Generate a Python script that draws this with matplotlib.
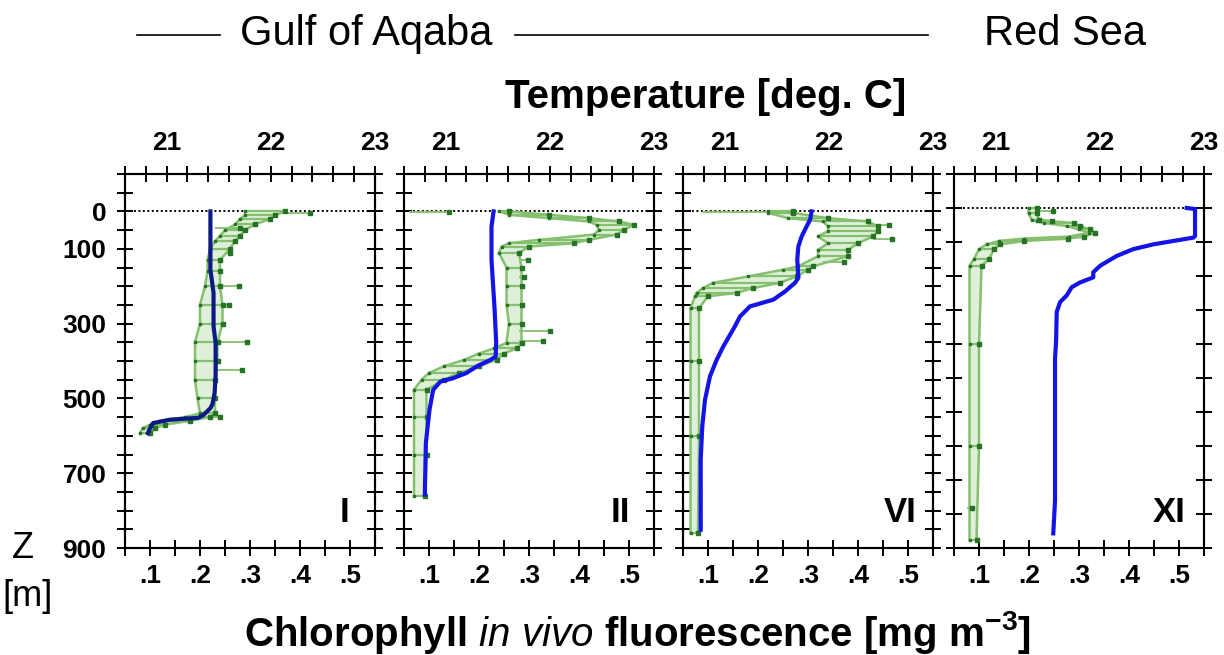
import matplotlib
matplotlib.use("Agg")
import matplotlib.pyplot as plt
from matplotlib import font_manager
from matplotlib.lines import Line2D
import numpy as np

# ---------------- data ----------------
panel_names = ["I", "II", "VI", "XI"]

# chlorophyll fluorescence band (min / max per depth), mg m-3
p1_chl_depth = [0, 10, 20, 35, 50, 65, 80, 100, 130, 160, 200, 250, 300, 350, 400, 450, 500, 540, 550, 560, 570, 580, 593]
p1_chl_lo = [0.29, 0.29, 0.28, 0.27, 0.25, 0.24, 0.23, 0.22, 0.215, 0.215, 0.21, 0.20, 0.20, 0.19, 0.19, 0.19, 0.195, 0.20, 0.17, 0.12, 0.10, 0.085, 0.08]
p1_chl_hi = [0.37, 0.35, 0.34, 0.31, 0.29, 0.28, 0.27, 0.26, 0.24, 0.24, 0.24, 0.245, 0.245, 0.235, 0.235, 0.23, 0.23, 0.23, 0.22, 0.18, 0.13, 0.11, 0.10]
p1_spike_depth = [3, 44, 110, 200, 251, 350, 425, 551]
p1_spike_x0 = [0.36, 0.23, 0.25, 0.24, 0.24, 0.24, 0.23, 0.22]
p1_spike_x1 = [0.42, 0.28, 0.26, 0.277, 0.257, 0.293, 0.283, 0.24]
p1_temp_depth = [0, 50, 100, 156, 218, 307, 352, 441, 486, 515, 526, 545, 552, 557, 566, 580, 593]
p1_temp = [21.42, 21.42, 21.42, 21.42, 21.45, 21.45, 21.47, 21.47, 21.46, 21.44, 21.42, 21.35, 21.30, 21.03, 20.87, 20.84, 20.82]

p2_chl_depth = [0, 9, 18, 27, 36, 49, 62, 76, 85, 94, 111, 150, 200, 250, 300, 352, 366, 380, 397, 414, 432, 450, 477, 550, 650, 762]
p2_chl_lo = [0.24, 0.26, 0.34, 0.42, 0.435, 0.44, 0.43, 0.32, 0.26, 0.245, 0.24, 0.255, 0.255, 0.255, 0.26, 0.255, 0.23, 0.20, 0.17, 0.13, 0.10, 0.085, 0.07, 0.07, 0.07, 0.07]
p2_chl_hi = [0.26, 0.34, 0.42, 0.48, 0.51, 0.49, 0.475, 0.42, 0.39, 0.30, 0.28, 0.285, 0.285, 0.285, 0.285, 0.285, 0.275, 0.25, 0.235, 0.20, 0.16, 0.13, 0.095, 0.095, 0.095, 0.092]
p2_spike_depth = [1, 129, 175, 321, 347]
p2_spike_x0 = [0.06, 0.28, 0.28, 0.28, 0.28]
p2_spike_x1 = [0.14, 0.297, 0.29, 0.342, 0.327]
p2_temp_depth = [0, 40, 111, 129, 263, 352, 388, 397, 414, 432, 446, 455, 477, 530, 619, 757]
p2_temp = [21.46, 21.44, 21.44, 21.44, 21.47, 21.485, 21.48, 21.43, 21.30, 21.20, 21.07, 20.95, 20.88, 20.845, 20.81, 20.80]

p3_chl_depth = [0, 4, 18, 27, 40, 53, 67, 85, 103, 120, 147, 156, 174, 191, 205, 218, 227, 259, 400, 600, 860]
p3_chl_lo = [0.22, 0.22, 0.26, 0.33, 0.34, 0.34, 0.32, 0.34, 0.32, 0.32, 0.28, 0.25, 0.18, 0.11, 0.09, 0.077, 0.074, 0.065, 0.065, 0.065, 0.065]
p3_chl_hi = [0.27, 0.27, 0.34, 0.42, 0.44, 0.44, 0.43, 0.40, 0.38, 0.38, 0.31, 0.30, 0.277, 0.244, 0.19, 0.157, 0.10, 0.082, 0.082, 0.082, 0.08]
p3_spike_depth = [1, 36, 74, 134]
p3_spike_x0 = [0.087, 0.42, 0.43, 0.33]
p3_spike_x1 = [0.27, 0.461, 0.467, 0.371]
p3_temp_depth = [0, 22, 40, 67, 94, 129, 178, 191, 214, 236, 254, 281, 307, 361, 397, 441, 504, 575, 664, 851]
p3_temp = [21.835, 21.82, 21.787, 21.739, 21.707, 21.697, 21.707, 21.675, 21.58, 21.467, 21.243, 21.147, 21.099, 20.987, 20.923, 20.859, 20.811, 20.785, 20.77, 20.77]

p4_chl_depth = [0, 15, 34, 39, 44, 53, 63, 73, 84, 90, 97, 107, 121, 150, 170, 400, 700, 977]
p4_chl_lo = [0.199, 0.199, 0.205, 0.215, 0.23, 0.275, 0.30, 0.32, 0.28, 0.19, 0.14, 0.115, 0.10, 0.09, 0.081, 0.081, 0.081, 0.081]
p4_chl_hi = [0.215, 0.215, 0.22, 0.245, 0.289, 0.302, 0.322, 0.332, 0.31, 0.277, 0.19, 0.142, 0.13, 0.12, 0.105, 0.10, 0.10, 0.095]
p4_spike_depth = [10, 883]
p4_spike_x0 = [0.215, 0.075]
p4_spike_x1 = [0.247, 0.085]
p4_temp_depth = [0, 3, 82, 87, 97, 107, 121, 141, 170, 189, 204, 219, 233, 257, 277, 306, 393, 442, 539, 860, 957]
p4_temp = [22.834, 22.914, 22.914, 22.90, 22.705, 22.513, 22.321, 22.162, 22.002, 21.937, 21.937, 21.81, 21.73, 21.682, 21.618, 21.586, 21.58, 21.57, 21.57, 21.57, 21.553]

chl_ticks = [0.05, 0.10, 0.15, 0.20, 0.25, 0.30, 0.35, 0.40, 0.45, 0.50, 0.55]
chl_labels = ["", ".1", "", ".2", "", ".3", "", ".4", "", ".5", ""]
temp_ticks = [20.6, 20.8, 21.0, 21.2, 21.4, 21.6, 21.8, 22.0, 22.2, 22.4, 22.6, 22.8, 23.0]
temp_labels = ["", "", "21", "", "", "", "", "22", "", "", "", "", "23"]
depth_ticks = [-100, -50, 0, 50, 100, 150, 200, 250, 300, 350, 400, 450, 500, 550, 600, 650, 700, 750, 800, 850, 900]
depth_labels = ["", "", "0", "", "100", "", "", "", "300", "", "", "", "500", "", "", "", "700", "", "", "", "900"]
depth_ticks_xi = [-100, 0, 100, 200, 300, 400, 500, 600, 700, 800, 900, 1000]

# ---------------- style ----------------
names = {f.name for f in font_manager.fontManager.ttflist}
FONT = "Liberation Sans Narrow" if "Liberation Sans Narrow" in names else "Liberation Sans"
plt.rcParams["font.family"] = [FONT, "DejaVu Sans"]
plt.rcParams["mathtext.fontset"] = "custom"
plt.rcParams["mathtext.rm"] = FONT
plt.rcParams["mathtext.bf"] = FONT + ":bold"
plt.rcParams["mathtext.it"] = FONT + ":italic"

GREEN = "#84c06e"
DKGREEN = "#267326"
NAVY = "#0c1a86"
BLUE = "#1414e6"

fig = plt.figure(figsize=(12.24, 6.55), dpi=100)
W, H = 1224.0, 655.0
lefts = [125, 404, 683, 954]
ax_w = 250
ax_top, ax_bot = 174, 548

panels = [
    (p1_chl_depth, p1_chl_lo, p1_chl_hi, p1_spike_depth, p1_spike_x0, p1_spike_x1, p1_temp_depth, p1_temp, NAVY),
    (p2_chl_depth, p2_chl_lo, p2_chl_hi, p2_spike_depth, p2_spike_x0, p2_spike_x1, p2_temp_depth, p2_temp, BLUE),
    (p3_chl_depth, p3_chl_lo, p3_chl_hi, p3_spike_depth, p3_spike_x0, p3_spike_x1, p3_temp_depth, p3_temp, BLUE),
    (p4_chl_depth, p4_chl_lo, p4_chl_hi, p4_spike_depth, p4_spike_x0, p4_spike_x1, p4_temp_depth, p4_temp, BLUE),
]
label_x = [0.88, 0.866, 0.87, 0.86]

TS = 19
for i, (cd, lo, hi, sd, sx0, sx1, td, tt, tcol) in enumerate(panels):
    ax = fig.add_axes([lefts[i] / W, 1 - ax_bot / H, ax_w / W, (ax_bot - ax_top) / H])
    ax.set_xlim(0.05, 0.55)
    if i < 3:
        ax.set_ylim(900, -100)
        ax.set_yticks(depth_ticks)
        ax.set_yticklabels(depth_labels if i == 0 else [""] * len(depth_ticks))
    else:
        ax.set_ylim(1000, -100)
        ax.set_yticks(depth_ticks_xi)
        ax.set_yticklabels([""] * len(depth_ticks_xi))
    ax.set_xticks(chl_ticks)
    ax.set_xticklabels(chl_labels)
    ax.tick_params(axis="x", direction="inout", length=11, width=1.4, labelsize=TS, pad=6, top=False)
    ax.tick_params(axis="y", direction="inout", length=11, width=1.4, labelsize=TS, pad=8, left=True, right=True)
    for lab in ax.get_xticklabels() + ax.get_yticklabels():
        lab.set_fontweight("bold")
    for sp in ax.spines.values():
        sp.set_linewidth(1.5)

    # surface reference line
    ax.axhline(0, color="black", lw=1.4, ls=(0, (1, 1.3)), zorder=1)

    # chlorophyll band
    ax.fill_betweenx(cd, lo, hi, color=GREEN, alpha=0.25, lw=0, zorder=2)
    ax.plot(lo, cd, color=GREEN, lw=1.8, zorder=3)
    ax.plot(hi, cd, color=GREEN, lw=1.8, zorder=3)
    ax.hlines(cd, lo, hi, color=GREEN, lw=1.6, zorder=3)
    ax.plot(hi, cd, ls="none", marker="s", ms=2.2, color=DKGREEN, zorder=4)
    ax.plot(lo, cd, ls="none", marker="s", ms=1.6, color=DKGREEN, zorder=4)
    ax.hlines(sd, sx0, sx1, color=GREEN, lw=1.3, zorder=3)
    ax.plot(sx1, sd, ls="none", marker="s", ms=2.2, color=DKGREEN, zorder=4)

    ax.text(label_x[i], 0.05, panel_names[i], transform=ax.transAxes, ha="center", va="bottom",
            fontsize=25, fontweight="bold", zorder=6)

    # temperature on top axis
    axt = ax.twiny()
    axt.set_xlim(20.6, 23.0)
    axt.plot(tt, td, color=tcol, lw=3, zorder=5, solid_joinstyle="round")
    axt.set_xticks(temp_ticks)
    axt.set_xticklabels(temp_labels)
    axt.tick_params(axis="x", direction="inout", length=11, width=1.4, labelsize=TS, pad=8)
    for lab in axt.get_xticklabels():
        lab.set_fontweight("bold")
    for sp in axt.spines.values():
        sp.set_linewidth(1.5)

# header
fig.add_artist(Line2D([137 / W, 220 / W], [1 - 35 / H, 1 - 35 / H], color="black", lw=1.2))
fig.add_artist(Line2D([515 / W, 928 / W], [1 - 35 / H, 1 - 35 / H], color="black", lw=1.2))
fig.text(366.5 / W, 1 - 34 / H, "Gulf of Aqaba", ha="center", va="center", fontsize=30)
fig.text(1065 / W, 1 - 34 / H, "Red Sea", ha="center", va="center", fontsize=30)
fig.text(706 / W, 1 - 97 / H, "Temperature [deg. C]", ha="center", va="center", fontsize=29, fontweight="bold")
fig.text(638 / W, 1 - 633 / H,
         r"$\mathbf{Chlorophyll}\ \mathit{in\ vivo}\ \mathbf{fluorescence\ [mg\ m^{-3}]}$",
         ha="center", va="center", fontsize=29)
fig.text(23 / W, 1 - 548 / H, "Z", ha="center", va="center", fontsize=26)
fig.text(28 / W, 1 - 597 / H, "[m]", ha="center", va="center", fontsize=26)

fig.savefig("out.png", dpi=100)
